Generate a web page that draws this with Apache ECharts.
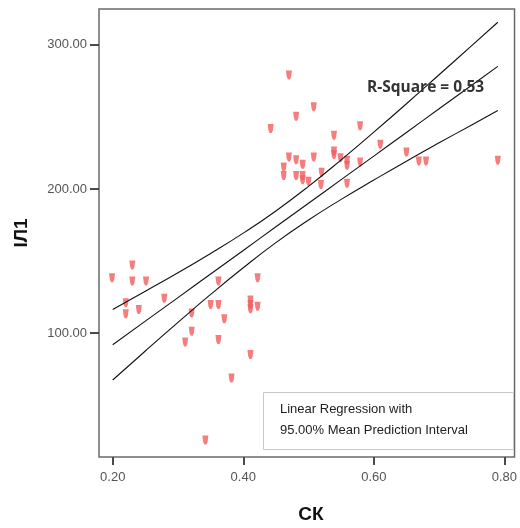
<!DOCTYPE html>
<html>
<head>
<meta charset="utf-8">
<script src="https://cdn.jsdelivr.net/npm/echarts@6/dist/echarts.min.js"></script>
<style>html,body{margin:0;padding:0;background:#fff}#c{width:520px;height:528px}</style>
</head>
<body>
<div id="c"></div>
<script>
// Observations (СК, ІЛ1)
const ckValues = [0.230,0.199,0.230,0.251,0.220,0.220,0.240,0.279,0.362,0.422,0.350,0.362,0.411,0.411,0.411,0.422,0.321,0.371,0.321,0.362,0.311,0.411,0.382,0.342,
  0.470,0.508,0.481,0.442,0.579,0.539,0.539,0.539,0.610,0.650,0.470,0.481,0.491,0.508,0.462,0.462,0.481,0.491,0.491,0.500,0.520,0.519,0.549,0.559,0.559,0.579,0.559,0.669,0.680,0.790];
const il1Values = [147.4,138.5,136.2,136.2,121.1,113.5,116.5,124.2,136.2,138.5,120.0,120.0,123.0,120.0,117.0,118.8,114.1,110.0,101.4,95.6,93.9,85.2,68.9,25.9,
  279.1,257.0,250.5,242.0,243.8,237.3,226.3,224.0,231.0,225.6,222.2,220.3,217.1,222.2,215.2,209.4,209.4,209.4,206.4,205.4,211.7,203.1,221.7,219.9,216.4,218.7,204.0,219.4,219.4,219.9];
// Regression line and 95% mean prediction interval
const fitX     = [0.20,0.25,0.30,0.35,0.40,0.45,0.50,0.55,0.60,0.65,0.70,0.75,0.79];
const fitMean  = [92.0,108.4,124.7,141.1,157.4,173.8,190.1,206.5,222.8,239.2,255.6,271.9,285.0];
const fitUpper = [116.4,129.1,141.9,155.3,169.4,184.8,201.8,220.2,239.4,259.1,279.2,299.4,315.6];
const fitLower = [67.6,87.7,107.5,126.9,145.4,162.8,178.5,192.8,206.2,219.3,232.0,244.4,254.4];
const xTicks = [0.2,0.4,0.6,0.8];
const yTicks = [100,200,300];
const rSquare = 'R-Square = 0.53';
const legendLines = ['Linear Regression with','95.00% Mean Prediction Interval'];

const pts = ckValues.map((x,i)=>[x, il1Values[i]]);
const line = arr => fitX.map((x,i)=>[x, arr[i]]);
const lineStyle = {color:'#111', width:1.1};
const lineSeries = arr => ({type:'line', data:line(arr), symbol:'none', smooth:true, lineStyle, z:3, silent:true});

const chart = echarts.init(document.getElementById('c'), null, {renderer:'canvas'});
chart.setOption({
  animation:false,
  grid:{left:99, right:2, top:9, bottom:71, show:true, borderColor:'#6a6a6a', borderWidth:1.5, backgroundColor:'#fff'},
  xAxis:{type:'value', min:0.179, max:0.8156,
    axisLine:{show:false}, splitLine:{show:false},
    axisTick:{show:true, length:8, customValues:xTicks, lineStyle:{color:'#4a4a4a', width:2}},
    axisLabel:{customValues:xTicks, formatter:v=>v.toFixed(2), color:'#555', fontSize:13, fontFamily:'Liberation Sans', margin:14}
  },
  yAxis:{type:'value', min:14.2, max:324.8,
    axisLine:{show:false}, splitLine:{show:false},
    axisTick:{show:true, length:9, customValues:yTicks, lineStyle:{color:'#4a4a4a', width:2}},
    axisLabel:{customValues:yTicks, formatter:v=>v.toFixed(2), color:'#555', fontSize:13, fontFamily:'Liberation Sans', margin:12}
  },
  series:[
    {type:'scatter', data:pts, symbol:'path://M0,0 L6,0 L5.2,7 L4,10 L2,10 L0.8,7 Z', symbolSize:[6,9],
      itemStyle:{color:'#f35c5c', opacity:0.8}, z:2, silent:true},
    lineSeries(fitUpper), lineSeries(fitMean), lineSeries(fitLower)
  ],
  graphic:[
    {type:'text', left:367, top:80, style:{text:rSquare, font:'bold 15.5px "Open Sans"', fill:'#333'}, z:10},
    {type:'rect', shape:{x:263.5, y:392.5, width:250, height:57}, style:{fill:'#fff', stroke:'#c8c8c8', lineWidth:1}, z:10},
    {type:'text', x:280, y:403, style:{text:legendLines[0], font:'13px "Liberation Sans"', fill:'#222'}, z:11},
    {type:'text', x:280, y:424, style:{text:legendLines[1], font:'13px "Liberation Sans"', fill:'#222'}, z:11},
    {type:'text', x:311, y:515, style:{text:'СК', font:'bold 19px "Liberation Sans"', fill:'#111', align:'center', verticalAlign:'middle'}, z:10},
    {type:'text', x:22, y:233, rotation:Math.PI/2, style:{text:'ІЛ1', font:'bold 19px "Liberation Sans"', fill:'#111', align:'center', verticalAlign:'middle'}, z:10}
  ]
});
</script>
</body>
</html>
